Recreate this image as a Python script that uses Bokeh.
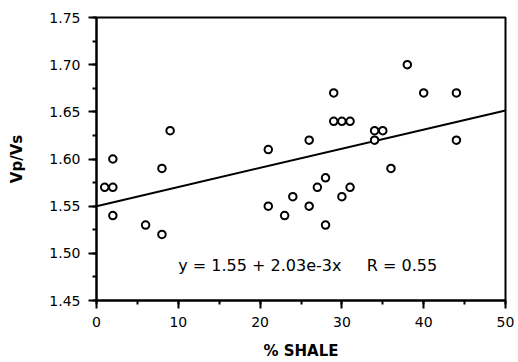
from bokeh.plotting import figure
from bokeh.models import Range1d, SingleIntervalTicker, Label, CustomJSTickFormatter
from bokeh.embed import file_html
from bokeh.resources import INLINE

# Shale content (%) and Vp/Vs ratio for each sample
shale_pct = [1, 2, 2, 2, 6, 8, 8, 9,
             21, 21, 23, 24, 26, 26, 27, 28, 28, 29, 29, 30, 31, 30, 31,
             34, 34, 35, 36, 38, 40, 44, 44]
vp_vs = [1.57, 1.57, 1.60, 1.54, 1.53, 1.52, 1.59, 1.63,
         1.61, 1.55, 1.54, 1.56, 1.55, 1.62, 1.57, 1.58, 1.53, 1.67, 1.64, 1.64, 1.64, 1.56, 1.57,
         1.62, 1.63, 1.63, 1.59, 1.70, 1.67, 1.67, 1.62]

# Linear fit: y = a + b*x
fit_intercept = 1.55
fit_slope = 2.03e-3
fit_r = 0.55
fit_x = [0, 50]
fit_y = [fit_intercept + fit_slope * xv for xv in fit_x]

FONT = "DejaVu Sans"
NBSP = "\u00a0"

p = figure(width=518, height=362, output_backend="svg", toolbar_location=None,
           x_range=Range1d(0, 50), y_range=Range1d(1.45, 1.75),
           min_border_left=96, min_border_right=13, min_border_top=17, min_border_bottom=60)
p.background_fill_color = "white"
p.border_fill_color = "white"
p.grid.visible = False
p.outline_line_color = "black"
p.outline_line_width = 2

p.xaxis.ticker = SingleIntervalTicker(interval=10, num_minor_ticks=2)
p.yaxis.ticker = SingleIntervalTicker(interval=0.05, num_minor_ticks=2)
p.yaxis.formatter = CustomJSTickFormatter(code="return tick.toFixed(2);")

for ax in (p.xaxis, p.yaxis):
    ax.axis_line_width = 2
    ax.axis_line_color = "black"
    ax.major_tick_in = 0
    ax.major_tick_out = 8
    ax.minor_tick_in = 0
    ax.minor_tick_out = 4
    ax.major_tick_line_width = 2
    ax.minor_tick_line_width = 2
    ax.major_label_text_font = FONT
    ax.major_label_text_font_size = "14px"
    ax.major_label_text_color = "black"
    ax.axis_label_text_font = FONT
    ax.axis_label_text_font_size = "15px"
    ax.axis_label_text_font_style = "bold"
    ax.axis_label_text_color = "black"

p.xaxis.axis_label = "% SHALE"
p.yaxis.axis_label = "Vp/Vs"
p.xaxis.major_label_standoff = 8
p.yaxis.major_label_standoff = 8
p.xaxis.axis_label_standoff = 12
p.yaxis.axis_label_standoff = 20

p.line(fit_x, fit_y, line_color="black", line_width=2)
p.scatter(shale_pct, vp_vs, marker="circle", size=7.5,
          fill_color="white", line_color="black", line_width=2)

equation = (f"y{NBSP}={NBSP}{fit_intercept:.2f}{NBSP}+{NBSP}"
            + f"{fit_slope:.2e}".replace("e-03", "e-3") + "x"
            + NBSP * 5 + f"R{NBSP}={NBSP}{fit_r:.2f}")
p.add_layout(Label(x=10, y=1.487, text=equation,
                   text_font=FONT, text_font_size="16px", text_baseline="middle",
                   text_color="black"))

open("out.html", "w").write(file_html(p, INLINE))
